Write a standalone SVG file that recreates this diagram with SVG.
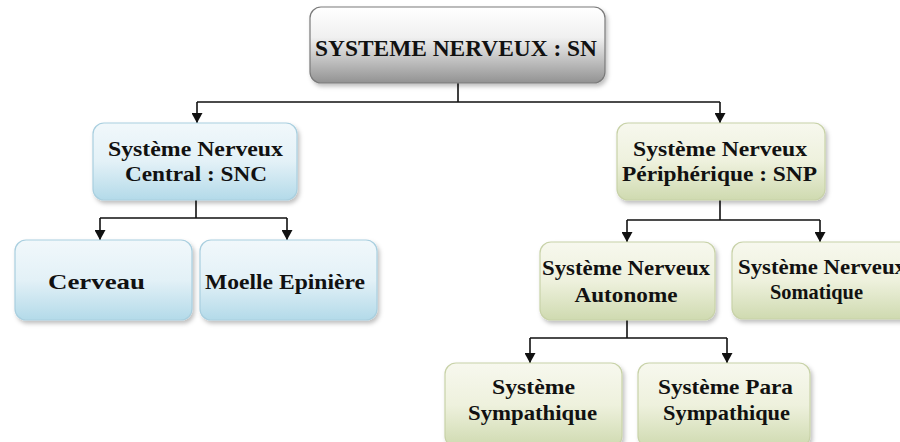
<svg xmlns="http://www.w3.org/2000/svg" width="900" height="442" viewBox="0 0 900 442">
<style>
.t{font-family:"Liberation Serif","Times New Roman",serif;font-weight:bold;font-size:21px;fill:#111;text-anchor:middle}
.tt{font-size:23px}
.c{fill:none;stroke:#111;stroke-width:1.6}
.g{fill:url(#gg);stroke:#7a7a7a;stroke-width:1.2}
.b{fill:url(#gb);stroke:#a9cfdf;stroke-width:1.2}
.v{fill:url(#gv);stroke:#c8d2a8;stroke-width:1.2}
.sh{filter:url(#ds)}
</style>
<defs>
<linearGradient id="gg" x1="0" y1="0" x2="0" y2="1"><stop offset="0" stop-color="#ffffff"/><stop offset="0.4" stop-color="#f0f0f0"/><stop offset="1" stop-color="#929292"/></linearGradient>
<linearGradient id="gb" x1="0" y1="0" x2="0" y2="1"><stop offset="0" stop-color="#f1f8fb"/><stop offset="0.5" stop-color="#e3f1f7"/><stop offset="1" stop-color="#b3dae9"/></linearGradient>
<linearGradient id="gv" x1="0" y1="0" x2="0" y2="1"><stop offset="0" stop-color="#f7f8ee"/><stop offset="0.5" stop-color="#eef1dd"/><stop offset="1" stop-color="#cfdab0"/></linearGradient>
<filter id="ds" x="-10%" y="-10%" width="125%" height="130%"><feDropShadow dx="2" dy="3" stdDeviation="2" flood-color="#000" flood-opacity="0.25"/></filter>
<marker id="ar" markerUnits="userSpaceOnUse" markerWidth="11" markerHeight="11" refX="10" refY="5.5" orient="auto"><path d="M0,0 L10,5.5 L0,11 z" fill="#111"/></marker>
</defs>
<g id="connectors">
<path class="c" d="M458 83 V102 M197 102 H720"/>
<path class="c" d="M197 102 V123" marker-end="url(#ar)"/>
<path class="c" d="M720 102 V123" marker-end="url(#ar)"/>
<path class="c" d="M196 200 V218 M100 218 H287"/>
<path class="c" d="M100 218 V240" marker-end="url(#ar)"/>
<path class="c" d="M287 218 V240" marker-end="url(#ar)"/>
<path class="c" d="M720 200 V220 M627 220 H820"/>
<path class="c" d="M627 220 V242" marker-end="url(#ar)"/>
<path class="c" d="M820 220 V242" marker-end="url(#ar)"/>
<path class="c" d="M627 320 V338 M530 338 H727"/>
<path class="c" d="M530 338 V363" marker-end="url(#ar)"/>
<path class="c" d="M727 338 V363" marker-end="url(#ar)"/>
</g>
<g id="sn">
<rect class="g sh" x="310" y="7" width="295" height="76" rx="11"/>
<text class="t tt" x="456" y="56" textLength="282" lengthAdjust="spacingAndGlyphs">SYSTEME NERVEUX : SN</text>
</g>
<g id="snc">
<rect class="b sh" x="93" y="123" width="204" height="77" rx="11"/>
<text class="t" x="195.5" y="156" textLength="175" lengthAdjust="spacingAndGlyphs">Système Nerveux</text>
<text class="t" x="196" y="181" textLength="142" lengthAdjust="spacingAndGlyphs">Central : SNC</text>
</g>
<g id="cerveau">
<rect class="b sh" x="15" y="240" width="177" height="80" rx="11"/>
<text class="t" x="96.5" y="289" textLength="97" lengthAdjust="spacingAndGlyphs">Cerveau</text>
</g>
<g id="moelle">
<rect class="b sh" x="200" y="240" width="177" height="80" rx="11"/>
<text class="t" x="285" y="289" textLength="160" lengthAdjust="spacingAndGlyphs">Moelle Epinière</text>
</g>
<g id="snp">
<rect class="v sh" x="617" y="123" width="208" height="77" rx="11"/>
<text class="t" x="720" y="156" textLength="174" lengthAdjust="spacingAndGlyphs">Système Nerveux</text>
<text class="t" x="719.5" y="181" textLength="195" lengthAdjust="spacingAndGlyphs">Périphérique : SNP</text>
</g>
<g id="autonome">
<rect class="v sh" x="540" y="242" width="175" height="78" rx="11"/>
<text class="t" x="626" y="275" textLength="168" lengthAdjust="spacingAndGlyphs">Système Nerveux</text>
<text class="t" x="626" y="302" textLength="103" lengthAdjust="spacingAndGlyphs">Autonome</text>
</g>
<g id="somatique">
<rect class="v sh" x="732" y="242" width="180" height="77" rx="11"/>
<text class="t" x="822" y="274" textLength="168" lengthAdjust="spacingAndGlyphs">Système Nerveux</text>
<text class="t" x="816.5" y="299" textLength="93" lengthAdjust="spacingAndGlyphs">Somatique</text>
</g>
<g id="sympathique">
<rect class="v sh" x="445" y="363" width="177" height="84" rx="11"/>
<text class="t" x="533.5" y="394" textLength="83" lengthAdjust="spacingAndGlyphs">Système</text>
<text class="t" x="532.5" y="420" textLength="129" lengthAdjust="spacingAndGlyphs">Sympathique</text>
</g>
<g id="parasympathique">
<rect class="v sh" x="638" y="363" width="172" height="84" rx="11"/>
<text class="t" x="725.5" y="394" textLength="135" lengthAdjust="spacingAndGlyphs">Système Para</text>
<text class="t" x="726.5" y="420" textLength="127" lengthAdjust="spacingAndGlyphs">Sympathique</text>
</g>
</svg>
